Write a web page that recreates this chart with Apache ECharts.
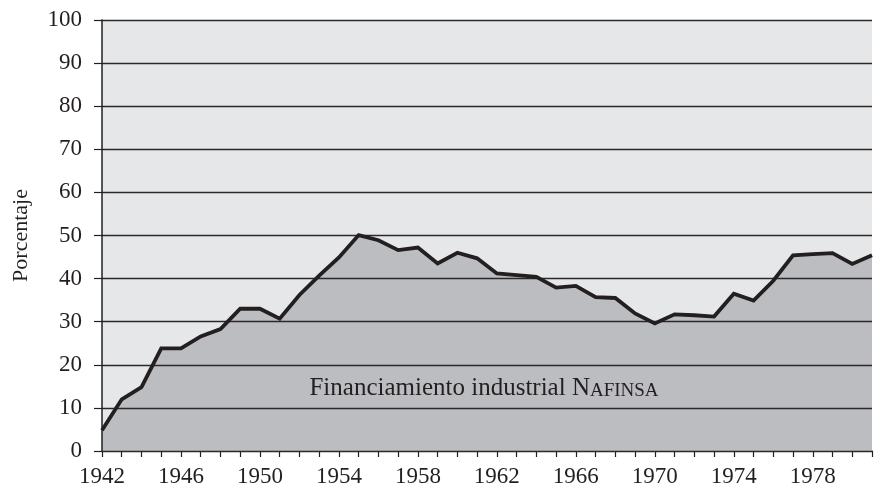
<!DOCTYPE html>
<html>
<head>
<meta charset="utf-8">
<script src="https://cdn.jsdelivr.net/npm/echarts@6/dist/echarts.min.js"></script>
<style>html,body{margin:0;padding:0;background:#fff}#c{width:875px;height:485px}</style>
</head>
<body>
<div id="c"></div>
<script>
var years = [1942,1943,1944,1945,1946,1947,1948,1949,1950,1951,1952,1953,1954,1955,1956,1957,1958,1959,1960,1961,1962,1963,1964,1965,1966,1967,1968,1969,1970,1971,1972,1973,1974,1975,1976,1977,1978,1979,1980,1981];
var values = [4.8,12.0,14.8,23.8,23.8,26.6,28.3,33.0,33.0,30.7,36.2,40.7,44.9,50.1,48.9,46.6,47.2,43.5,46.0,44.7,41.2,40.8,40.4,37.9,38.3,35.7,35.5,31.9,29.6,31.7,31.5,31.2,36.5,34.9,39.5,45.4,45.7,45.9,43.4,45.4];
var yTicks = [0,10,20,30,40,50,60,70,80,90,100];
var xLabelYears = [1942,1946,1950,1954,1958,1962,1966,1970,1974,1978];
var seriesLabel = 'Financiamiento industrial ';

var pts = years.map(function(y,i){return [y, values[i]];});
var font = 'Liberation Serif';
var chart = echarts.init(document.getElementById('c'));
chart.setOption({
  animation: false,
  grid: {left: 102, right: 3, top: 20, bottom: 34, show: true, backgroundColor: '#e6e7e9', borderWidth: 0,
         containLabel: false, outerBoundsMode: 'none'},
  xAxis: {
    type: 'value', min: 1942, max: 1981, interval: 1,
    axisLine: {show: true, lineStyle: {color: '#231f20', width: 1.5}},
    axisTick: {show: true, length: 6, lineStyle: {color: '#231f20', width: 1.2}},
    splitLine: {show: false},
    axisLabel: {
      margin: 14, color: '#231f20', fontFamily: font, fontSize: 23,
      formatter: function(v){ return xLabelYears.indexOf(v) >= 0 ? String(v) : ''; }
    }
  },
  yAxis: {
    type: 'value', min: 0, max: 100, interval: 10, z: 3,
    name: 'Porcentaje', nameLocation: 'middle', nameGap: 70, nameRotate: 90,
    nameTextStyle: {color: '#231f20', fontFamily: font, fontSize: 22},
    axisLine: {show: true, lineStyle: {color: '#231f20', width: 1.5}},
    axisTick: {show: true, length: 8, lineStyle: {color: '#231f20', width: 1.2}},
    splitLine: {show: true, lineStyle: {color: '#2b2829', width: 1.3}},
    axisLabel: {
      margin: 20, color: '#231f20', fontFamily: font, fontSize: 23,
      formatter: function(v){ return yTicks.indexOf(v) >= 0 ? String(v) : ''; }
    }
  },
  series: [
    {type: 'line', data: pts, symbol: 'none', z: 1,
     lineStyle: {width: 0, opacity: 0}, areaStyle: {color: '#bcbdc1', opacity: 1}},
    {type: 'line', data: pts, symbol: 'none', z: 5,
     lineStyle: {width: 3.8, color: '#231f20', join: 'miter'}}
  ],
  graphic: [{
    type: 'text', x: 484, y: 388, z: 10,
    style: {
      text: '{a|' + seriesLabel + 'N}{b|AFINSA}',
      align: 'center', verticalAlign: 'middle',
      rich: {
        a: {fontFamily: font, fontSize: 25, fill: '#231f20', verticalAlign: 'bottom'},
        b: {fontFamily: font, fontSize: 19, fill: '#231f20', verticalAlign: 'bottom'}
      }
    }
  }]
});
</script>
</body>
</html>
